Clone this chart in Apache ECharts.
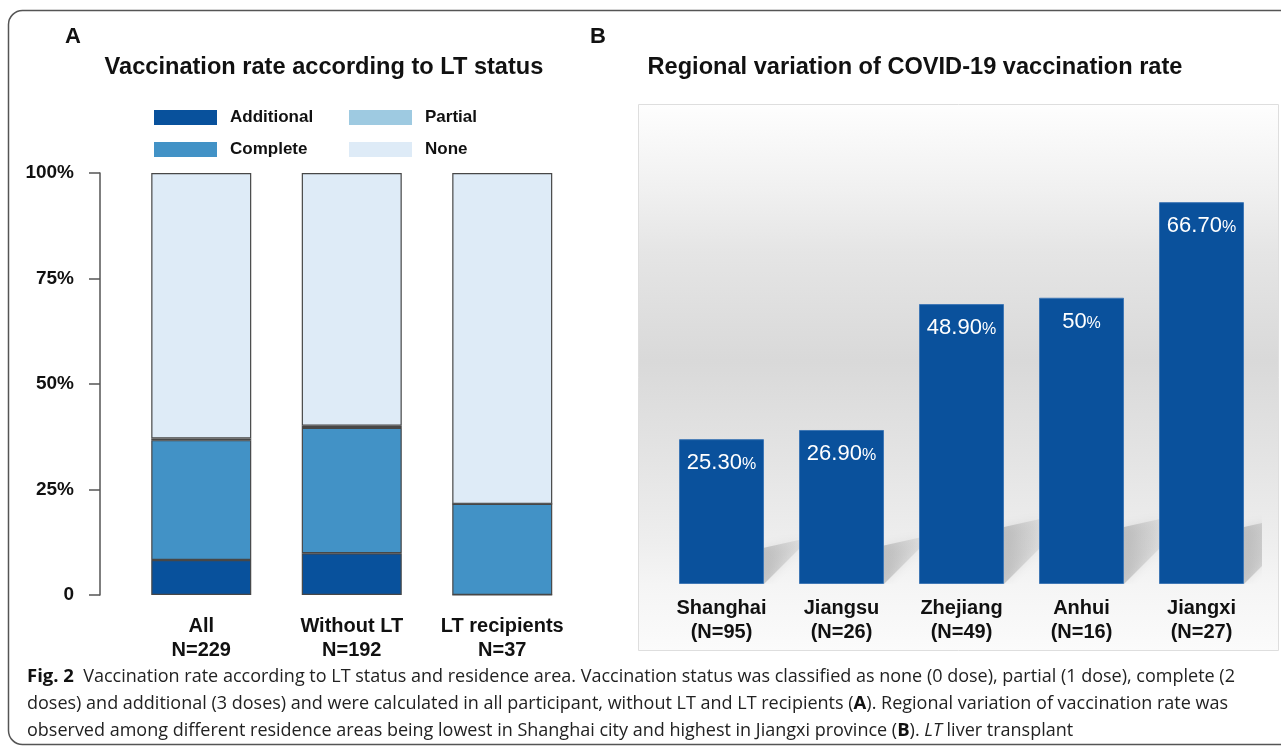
<!DOCTYPE html>
<html>
<head>
<meta charset="utf-8">
<script src="https://cdn.jsdelivr.net/npm/echarts@6/dist/echarts.min.js"></script>
<style>
  html, body { margin: 0; padding: 0; background: #fff; }
  #chart { width: 1281px; height: 749px; }
</style>
</head>
<body>
<div id="chart"></div>
<script>
// Panel A: vaccination status by LT status (% of group)
const groups = ['All\nN=229', 'Without LT\nN=192', 'LT recipients\nN=37'];
const additional = [8.3, 9.9, 0];
const complete = [28.4, 29.7, 21.6];
const partial = [0.4, 0.5, 0];
const none = [62.9, 59.9, 78.4];
const aTickLabels = ['0', '25%', '50%', '75%', '100%'];

// Panel B: regional vaccination rate (%)
const regions = ['Shanghai\n(N=95)', 'Jiangsu\n(N=26)', 'Zhejiang\n(N=49)', 'Anhui\n(N=16)', 'Jiangxi\n(N=27)'];
const rates = [25.3, 26.9, 48.9, 50, 66.7];
const rateLabels = ['25.30', '26.90', '48.90', '50', '66.70'];

const FONT = '"Liberation Sans", Arial, sans-serif';
const CAP_FONT = '"Open Sans", "Noto Sans", sans-serif';
const blues = { additional: '#08519c', complete: '#4292c6', partial: '#9ecae1', none: '#deebf7' };

const chart = echarts.init(document.getElementById('chart'));

const stackBar = (name, data, color) => ({
  name: name,
  type: 'bar',
  stack: 'a',
  xAxisIndex: 0,
  yAxisIndex: 0,
  barWidth: 100,
  data: data,
  itemStyle: { color: color, borderColor: '#474747', borderWidth: 1.2 },
  emphasis: { disabled: true }
});

// floor shadow behind each regional bar, placed from the bar's value
const renderShadow = (params, api) => {
  const top = api.coord([api.value(0), api.value(1)]);
  const base = api.coord([api.value(0), 0]);
  const xr = base[0] + 42.5;
  const h = Math.min((base[1] - top[1]) * 0.25, 57);
  const y0 = base[1];
  return {
    type: 'polygon',
    shape: { points: [[xr, y0], [xr, y0 - h], [xr + 36, y0 - h - 8], [xr + 36, y0 - 36]] },
    style: {
      fill: new echarts.graphic.LinearGradient(0, 0, 1, 0, [
        { offset: 0, color: 'rgba(140,140,140,0.42)' },
        { offset: 1, color: 'rgba(170,170,170,0.22)' }
      ]),
      shadowBlur: 10,
      shadowColor: 'rgba(140,140,140,0.45)'
    }
  };
};

const captionLines = [
  '{b|Fig. 2}  Vaccination rate according to LT status and residence area. Vaccination status was classified as none (0 dose), partial (1 dose), complete (2',
  'doses) and additional (3 doses) and were calculated in all participant, without LT and LT recipients ({b|A}). Regional variation of vaccination rate was',
  'observed among different residence areas being lowest in Shanghai city and highest in Jiangxi province ({b|B}). {i|LT} liver transplant'
];
const capRich = {
  b: { fontFamily: CAP_FONT, fontWeight: 'bold', fontSize: 18.5, fill: '#111' },
  i: { fontFamily: CAP_FONT, fontStyle: 'italic', fontSize: 18, fill: '#222' }
};

const option = {
  animation: false,
  textStyle: { fontFamily: FONT },
  graphic: [
    {
      type: 'rect', z: -10,
      shape: { x: 8.5, y: 10.5, width: 1320, height: 734, r: 14 },
      style: { fill: '#fff', stroke: '#555', lineWidth: 1.5 }
    },
    {
      type: 'rect', z: -5,
      shape: { x: 638.5, y: 104.5, width: 640, height: 546 },
      style: {
        fill: new echarts.graphic.LinearGradient(0, 0, 0, 1, [
          { offset: 0, color: '#fefefe' },
          { offset: 0.16, color: '#f0f0f0' },
          { offset: 0.27, color: '#e5e5e5' },
          { offset: 0.47, color: '#d9d9d9' },
          { offset: 0.65, color: '#e4e4e4' },
          { offset: 0.8, color: '#eeeeee' },
          { offset: 0.88, color: '#f5f5f5' },
          { offset: 1, color: '#fbfbfb' }
        ]),
        stroke: '#dedede', lineWidth: 1
      }
    },
    { type: 'text', style: { x: 73, y: 37, text: 'A', align: 'center', verticalAlign: 'middle', font: 'bold 22px ' + FONT, fill: '#111' } },
    { type: 'text', style: { x: 598, y: 37, text: 'B', align: 'center', verticalAlign: 'middle', font: 'bold 22px ' + FONT, fill: '#111' } },
    { type: 'text', style: { x: 324, y: 67, text: 'Vaccination rate according to LT status', align: 'center', verticalAlign: 'middle', font: 'bold 23.6px ' + FONT, fill: '#111' } },
    { type: 'text', style: { x: 915, y: 67, text: 'Regional variation of COVID-19 vaccination rate', align: 'center', verticalAlign: 'middle', font: 'bold 23.6px ' + FONT, fill: '#111' } },
    ...captionLines.map((t, i) => ({
      type: 'text',
      style: {
        x: 27, y: 677 + i * 27, text: t, align: 'left', verticalAlign: 'middle',
        font: '18px ' + CAP_FONT, fill: '#222', rich: capRich
      }
    }))
  ],
  legend: [
    {
      data: ['Additional', 'Complete'],
      orient: 'vertical', left: 149, top: 104,
      itemWidth: 63, itemHeight: 15, itemGap: 15,
      icon: 'rect', selectedMode: false,
      itemStyle: { borderWidth: 0 },
      textStyle: { fontFamily: FONT, fontWeight: 'bold', fontSize: 17, color: '#111', padding: [0, 0, 0, 8] }
    },
    {
      data: ['Partial', 'None'],
      orient: 'vertical', left: 344, top: 104,
      itemWidth: 63, itemHeight: 15, itemGap: 15,
      icon: 'rect', selectedMode: false,
      itemStyle: { borderWidth: 0 },
      textStyle: { fontFamily: FONT, fontWeight: 'bold', fontSize: 17, color: '#111', padding: [0, 0, 0, 8] }
    }
  ],
  grid: [
    { left: 126, top: 173, width: 451.5, height: 422 },
    { left: 661.5, top: 126, width: 600, height: 458 }
  ],
  xAxis: [
    {
      type: 'category', gridIndex: 0, data: groups,
      axisLine: { show: false }, axisTick: { show: false },
      axisLabel: { interval: 0, hideOverlap: false, fontFamily: FONT, fontWeight: 'bold', fontSize: 20, color: '#111', lineHeight: 24, margin: 19 }
    },
    {
      type: 'category', gridIndex: 1, data: regions,
      axisLine: { show: false }, axisTick: { show: false },
      axisLabel: { interval: 0, hideOverlap: false, fontFamily: FONT, fontWeight: 'bold', fontSize: 20, color: '#111', lineHeight: 24, margin: 12 }
    }
  ],
  yAxis: [
    {
      type: 'value', gridIndex: 0, min: 0, max: 100, interval: 25, offset: 26,
      axisLine: { show: true, lineStyle: { color: '#555', width: 1.5 } },
      axisTick: { show: true, length: 11, lineStyle: { color: '#555', width: 1.5 } },
      splitLine: { show: false },
      axisLabel: {
        fontFamily: FONT, fontWeight: 'bold', fontSize: 19, color: '#111', margin: 26,
        formatter: v => aTickLabels[Math.round(v / 25)]
      }
    },
    { type: 'value', gridIndex: 1, min: 0, max: 80, show: false }
  ],
  series: [
    stackBar('Additional', additional, blues.additional),
    stackBar('Complete', complete, blues.complete),
    stackBar('Partial', partial, blues.partial),
    stackBar('None', none, blues.none),
    {
      type: 'custom',
      xAxisIndex: 1, yAxisIndex: 1,
      clip: true, z: 1, silent: true,
      renderItem: renderShadow,
      data: rates.map((v, i) => [i, v])
    },
    {
      name: 'rate',
      type: 'bar',
      xAxisIndex: 1, yAxisIndex: 1,
      barWidth: 85, z: 3,
      data: rates,
      itemStyle: { color: '#0a519c', borderColor: '#3f77b5', borderWidth: 1 },
      emphasis: { disabled: true },
      label: {
        show: true, position: 'insideTop', distance: 13,
        formatter: p => '{v|' + rateLabels[p.dataIndex] + '}{p|%}',
        rich: {
          v: { fontFamily: FONT, fontSize: 22, color: '#fff' },
          p: { fontFamily: FONT, fontSize: 16, color: '#fff', padding: [3, 0, 0, 0] }
        }
      }
    }
  ]
};

chart.setOption(option);
</script>
</body>
</html>
